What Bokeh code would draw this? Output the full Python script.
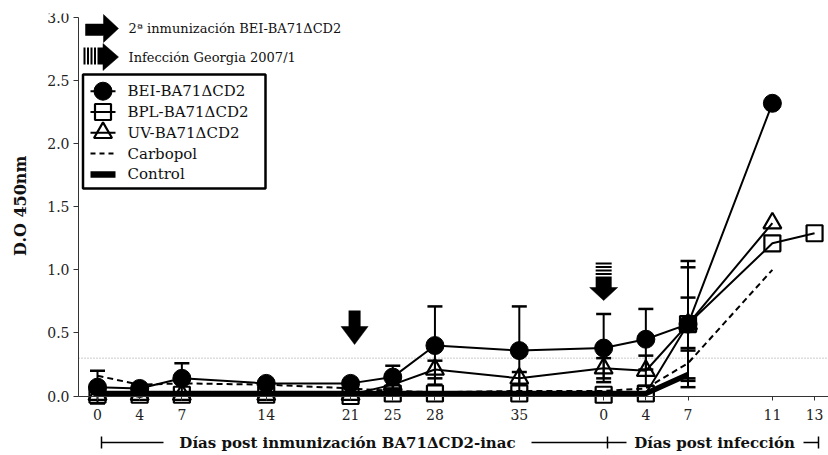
import math
from bokeh.plotting import figure
from bokeh.models import Range1d, FixedTicker
from bokeh.core.properties import value
from bokeh.embed import file_html
from bokeh.resources import INLINE

nan = float("nan")

# ---------------- data ----------------
# sampling days: 8 post-immunisation days, then 5 post-infection days
tick_labels = ["0", "4", "7", "14", "21", "25", "28", "35", "0", "4", "7", "11", "13"]
# slot of each sampling day on the horizontal axis (category spacing of the original)
x_slot = [0, 1, 2, 4, 6, 7, 8, 10, 12, 13, 14, 16, 17]

series_names = ["BEI-BA71ΔCD2", "BPL-BA71ΔCD2", "UV-BA71ΔCD2", "Carbopol", "Control"]

bei = [0.07, 0.06, 0.14, 0.10, 0.10, 0.15, 0.40, 0.36, 0.38, 0.45, 0.57, 2.32, nan]
bei_err = [0.13, 0.02, 0.12, 0.02, 0.02, 0.09, 0.31, 0.35, 0.27, 0.24, 0.50, 0.0, nan]

bpl = [0.01, 0.01, 0.01, 0.01, 0.00, 0.02, 0.02, 0.02, 0.01, 0.02, 0.57, 1.21, 1.29]
bpl_err = [0.0, 0.0, 0.0, 0.0, 0.0, 0.0, 0.0, 0.0, 0.0, 0.0, 0.45, 0.0, 0.0]

uv = [0.01, 0.01, 0.01, 0.01, 0.01, 0.09, 0.21, 0.14, 0.22, 0.20, 0.57, 1.37, nan]
uv_err = [0.0, 0.0, 0.0, 0.0, 0.0, 0.04, 0.07, 0.05, 0.08, 0.12, 0.21, 0.0, nan]

carbopol = [0.16, 0.09, 0.10, 0.09, 0.06, 0.04, 0.03, 0.04, 0.04, 0.06, 0.26, 1.00, nan]
carbopol_err = [0.0, 0.0, 0.0, 0.0, 0.0, 0.0, 0.0, 0.0, 0.0, 0.0, 0.12, 0.0, nan]

control = [0.02, 0.02, 0.02, 0.02, 0.02, 0.02, 0.02, 0.02, 0.02, 0.02, 0.17, nan, nan]

y_ticks = [0.0, 0.5, 1.0, 1.5, 2.0, 2.5, 3.0]
cutoff = 0.3

y_title = "D.O 450nm"
phase_labels = ["Días post inmunización BA71ΔCD2-inac", "Días post infección"]
note_labels = ["2ª inmunización BEI-BA71ΔCD2", "Infección Georgia 2007/1"]

# ---------------- geometry (pixel anchors of the layout) ----------------
W, H = 828, 455
PX_X0, PX_PER_SLOT = 97.0, 42.18
PX_Y0, PX_PER_UNIT = 395.5, 126.17
AXIS_PX, TOP = 78, 13


def X(px):
    return (px - PX_X0) / PX_PER_SLOT


def Y(py):
    return (PX_Y0 - py) / PX_PER_UNIT


def slot_px(i):
    return PX_X0 + x_slot[i] * PX_PER_SLOT


FONT = "DejaVu Serif"

p = figure(width=W, height=H,
           x_range=Range1d(X(0), X(W)), y_range=Range1d(Y(H), Y(TOP)),
           min_border_left=0, min_border_right=0, min_border_top=TOP, min_border_bottom=0,
           toolbar_location=None, output_backend="svg")
p.outline_line_color = None
p.xgrid.visible = False
p.ygrid.visible = False
p.background_fill_color = "white"
p.border_fill_color = "white"

# x axis drawn at y = 0
xa = p.xaxis[0]
xa.fixed_location = 0
xa.bounds = (X(AXIS_PX), X(W))
xa.ticker = FixedTicker(ticks=x_slot)
xa.major_label_overrides = {s: t for s, t in zip(x_slot, tick_labels)}
xa.major_tick_out = 4
xa.major_tick_in = 0
xa.minor_tick_line_color = None
xa.axis_line_color = "#333333"
xa.major_tick_line_color = "#333333"
xa.major_label_text_font = FONT
xa.major_label_text_font_size = "14px"
xa.major_label_text_color = "#222222"
xa.major_label_standoff = 9

# y axis drawn at the left edge of the data area
ya = p.yaxis[0]
ya.fixed_location = X(AXIS_PX)
ya.bounds = (0, 3)
ya.ticker = FixedTicker(ticks=y_ticks)
ya.major_label_overrides = {t: "%.1f" % t for t in y_ticks}
ya.major_tick_out = 5
ya.major_tick_in = 0
ya.minor_tick_line_color = None
ya.axis_line_color = "#333333"
ya.major_tick_line_color = "#333333"
ya.major_label_text_font = FONT
ya.major_label_text_font_size = "14px"
ya.major_label_text_color = "#222222"
ya.major_label_standoff = 4

# y title, centred on the 0-3 span of the axis
p.text(x=[X(20)], y=[1.5 + Y(205) - Y(206)], text=[y_title], angle=math.pi / 2,
       text_align="center", text_baseline="middle",
       text_font=value(FONT), text_font_style="bold", text_font_size="16px",
       text_color="#111111")

# cut-off line
p.segment(x0=[X(AXIS_PX)], y0=[cutoff], x1=[X(W)], y1=[cutoff],
          line_color="#999999", line_dash="1 2", line_width=1)


def error_bars(vals, errs, cap=15):
    xs, lo, hi = [], [], []
    for x, v, e in zip(x_slot, vals, errs):
        if v is None or e is None or math.isnan(v) or math.isnan(e) or e <= 0:
            continue
        xs.append(x)
        lo.append(v - e)
        hi.append(v + e)
    if not xs:
        return
    p.segment(x0=xs, y0=lo, x1=xs, y1=hi, line_color="black", line_width=2)
    p.scatter(x=xs, y=hi, marker="dash", size=cap, line_color="black", line_width=2.5)
    p.scatter(x=xs, y=lo, marker="dash", size=cap, line_color="black", line_width=2.5)


# Control
p.line(x_slot, control, line_color="black", line_width=5.5)
# Carbopol
error_bars(carbopol, carbopol_err)
p.line(x_slot, carbopol, line_color="black", line_width=2, line_dash="6 4")
# BPL
error_bars(bpl, bpl_err)
p.line(x_slot, bpl, line_color="black", line_width=2)
# UV
error_bars(uv, uv_err)
p.line(x_slot, uv, line_color="black", line_width=2)
# BEI
error_bars(bei, bei_err)
p.line(x_slot, bei, line_color="black", line_width=2)

p.scatter(x_slot, bei, marker="circle", size=18, fill_color="black", line_color="black")
p.scatter(x_slot, bpl, marker="square", size=16, fill_color=None, line_color="black", line_width=2.2)
p.scatter(x_slot, uv, marker="triangle", size=18, fill_color=None, line_color="black", line_width=2.2)

# ---------------- legend (drawn by hand for full-size markers) ----------------
p.quad(left=[X(82.5)], right=[X(265)], top=[Y(74)], bottom=[Y(188)],
       fill_color="white", line_color="black", line_width=2.5)
row_py = [90.7 + 20.8 * i for i in range(5)]
gx0, gx1, gxc, tx = X(90), X(115), X(102.5), X(127)
line_styles = [dict(line_width=2), dict(line_width=2), dict(line_width=2),
               dict(line_width=2, line_dash="5 4"), dict(line_width=6.5)]
for ry, st in zip(row_py, line_styles):
    p.segment(x0=[gx0], y0=[Y(ry)], x1=[gx1], y1=[Y(ry)], line_color="black", **st)
p.scatter([gxc], [Y(row_py[0])], marker="circle", size=18, fill_color="black", line_color="black")
p.scatter([gxc], [Y(row_py[1])], marker="square", size=16, fill_color=None, line_color="black", line_width=2.2)
p.scatter([gxc], [Y(row_py[2])], marker="triangle", size=18, fill_color=None, line_color="black", line_width=2.2)
p.text(x=[tx] * 5, y=[Y(r) for r in row_py], text=series_names,
       text_font=value(FONT), text_font_size="15px", text_baseline="middle",
       text_align="left", text_color="#111111")

# ---------------- arrows ----------------
def patch_px(pts):
    p.patch([X(a) for a, b in pts], [Y(b) for a, b in pts], fill_color="black", line_color="black", line_width=0.5)


def rect_px(x0, y0, x1, y1):
    p.quad(left=[X(x0)], right=[X(x1)], top=[Y(y0)], bottom=[Y(y1)], fill_color="black", line_color=None)


# key arrows (top-left)
patch_px([(85, 23.5), (103, 23.5), (103, 14), (118, 28), (103, 42), (103, 35), (85, 35)])
for sx in (83, 86.5, 90, 93.5):
    rect_px(sx, 47, sx + 2, 64)
rect_px(97, 47, 103, 64)
patch_px([(102.5, 43), (118, 56.5), (102.5, 70)])
p.text(x=[X(128), X(128)], y=[Y(28), Y(57)], text=note_labels,
       text_font=value(FONT), text_font_size="13px", text_baseline="middle",
       text_align="left", text_color="#111111")

# solid down arrow at 2nd immunisation (day 21)
c = slot_px(4) + 4
rect_px(c - 6, 310, c + 6, 327)
patch_px([(c - 13.5, 326), (c + 13.5, 326), (c, 344)])

# striped down arrow at infection (day 0 p.i.)
c = slot_px(8)
for sy in (262, 265.5, 269, 272.5):
    rect_px(c - 8, sy, c + 8, sy + 2)
rect_px(c - 8, 276, c + 8, 288)
patch_px([(c - 14, 287), (c + 14, 287), (c, 300)])

# ---------------- phase brackets under the axis ----------------
by = 442
segs = [((101, by - 6), (101, by + 6)), ((101, by), (163, by)),
        ((531, by), (626, by)), ((607, by - 6), (607, by + 6)),
        ((803, by), (818, by)), ((818, by - 6), (818, by + 6))]
p.segment(x0=[X(a[0]) for a, b in segs], y0=[Y(a[1]) for a, b in segs],
          x1=[X(b[0]) for a, b in segs], y1=[Y(b[1]) for a, b in segs],
          line_color="black", line_width=1.5)
p.text(x=[X(347), X(714)], y=[Y(by), Y(by)], text=phase_labels,
       text_font=value(FONT), text_font_size="15px", text_font_style="bold",
       text_baseline="middle", text_align="center", text_color="#111111")

open("out.html", "w").write(file_html(p, INLINE))
